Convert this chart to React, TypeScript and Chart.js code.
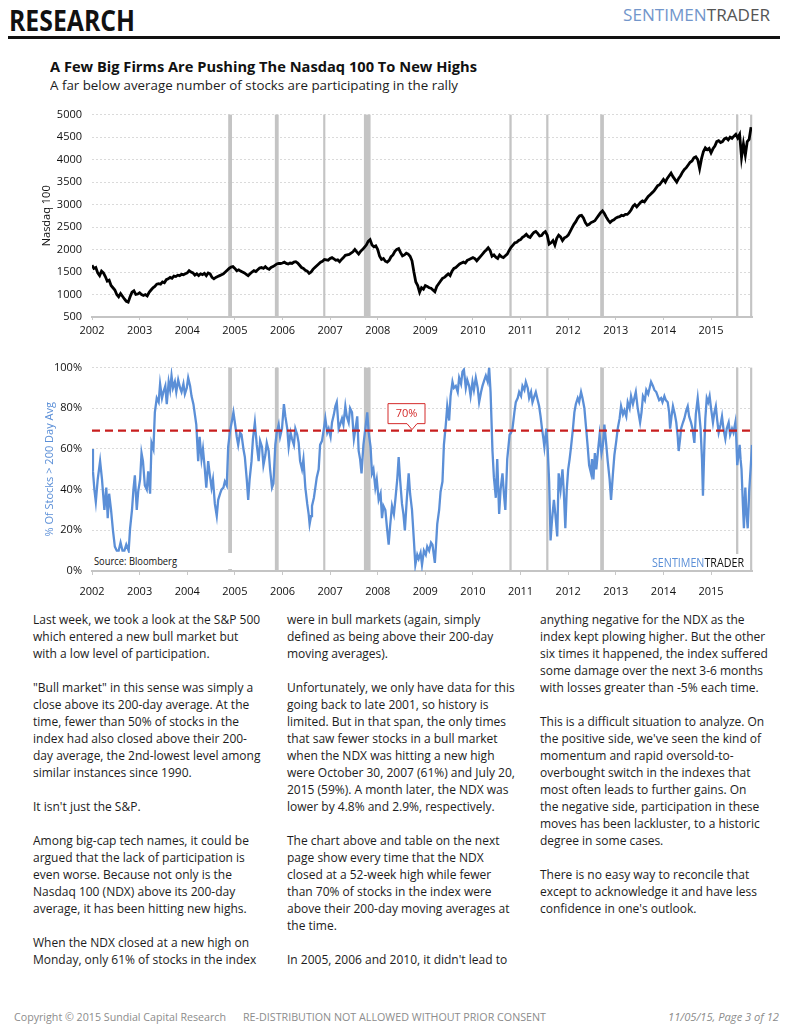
import React, { useEffect, useLayoutEffect, useRef } from "react";
import { Chart, registerables } from "chart.js";

Chart.register(...registerables);

const FONT = '"Open Sans", "DejaVu Sans", sans-serif';

// ---------- DATA ----------
const yearTicks = [2002, 2003, 2004, 2005, 2006, 2007, 2008, 2009, 2010, 2011, 2012, 2013, 2014, 2015];
const xMin = 2002;
const xMax = 2015.86;

// grey highlight periods (decimal years)
const bandStart = [2004.86, 2005.84, 2006.855, 2007.71, 2010.765, 2011.538, 2012.672, 2015.525, 2015.82];
const bandEnd = [2004.94, 2005.92, 2006.9, 2007.85, 2010.813, 2011.585, 2012.75, 2015.573, 2015.865];

// Nasdaq 100, sampled every 0.04 year from 2002.00
const ndxStartYear = 2002;
const ndxStep = 0.04;
const ndxValues = [
  // 2002
  1650, 1580, 1600, 1480, 1420, 1520, 1480, 1400, 1300, 1320, 1200, 1150, 1100, 1000, 950, 1020, 960, 900, 850, 830, 950, 1050, 1080, 1000, 1010,
  // 2003
  1040, 1000, 980, 1000, 970, 1050, 1100, 1150, 1180, 1230, 1240, 1230, 1280, 1260, 1330, 1350, 1380, 1360, 1410, 1400, 1430, 1420, 1450, 1440, 1460,
  // 2004
  1480, 1530, 1500, 1480, 1430, 1460, 1420, 1460, 1440, 1470, 1420, 1480, 1460, 1380, 1350, 1380, 1400, 1420, 1440, 1460, 1500, 1540, 1580, 1610, 1620,
  // 2005
  1580, 1530, 1550, 1520, 1500, 1480, 1450, 1420, 1460, 1500, 1530, 1510, 1550, 1590, 1600, 1580, 1620, 1580, 1560, 1600, 1620, 1650, 1680, 1690, 1690,
  // 2006
  1700, 1720, 1690, 1680, 1700, 1690, 1720, 1730, 1700, 1650, 1600, 1580, 1540, 1520, 1470, 1500, 1560, 1600, 1640, 1680, 1720, 1740, 1780, 1770, 1760,
  // 2007
  1800, 1820, 1790, 1760, 1770, 1730, 1780, 1820, 1870, 1880, 1890, 1920, 1950, 2000, 1950, 1900, 1960, 2000, 2050, 2100, 2180, 2220, 2100, 2060, 2080,
  // 2008
  2000, 1850, 1780, 1800, 1740, 1720, 1760, 1840, 1880, 1960, 2000, 2020, 1930, 1860, 1880, 1920, 1900, 1850, 1750, 1500, 1280, 1200, 1050, 1150, 1120,
  // 2009
  1200, 1180, 1150, 1140, 1100, 1060, 1180, 1240, 1300, 1360, 1380, 1420, 1460, 1420, 1520, 1580, 1600, 1640, 1680, 1700, 1720, 1700, 1760, 1780, 1800,
  // 2010
  1820, 1800, 1750, 1800, 1850, 1900, 1950, 1990, 2040, 1980, 1850, 1880, 1830, 1800, 1880, 1840, 1820, 1860, 1900, 1980, 2050, 2100, 2150, 2160, 2200,
  // 2011
  2220, 2270, 2300, 2340, 2290, 2270, 2330, 2380, 2400, 2360, 2300, 2310, 2370, 2400, 2320, 2120, 2150, 2200, 2100, 2250, 2320, 2280, 2200, 2260, 2280,
  // 2012
  2320, 2400, 2480, 2560, 2620, 2700, 2750, 2760, 2700, 2600, 2540, 2560, 2600, 2620, 2640, 2700, 2760, 2820, 2860, 2800, 2720, 2650, 2600, 2640, 2660,
  // 2013
  2700, 2720, 2730, 2760, 2750, 2780, 2780, 2820, 2880, 2960, 3000, 2950, 3000, 3050, 3080, 3060, 3120, 3180, 3220, 3260, 3300, 3360, 3420, 3440, 3500,
  // 2014
  3560, 3500, 3580, 3640, 3700, 3620, 3560, 3500, 3580, 3640, 3720, 3780, 3820, 3880, 3940, 3970, 4040, 4060, 4000, 3800, 4020, 4180, 4260, 4220, 4250,
  // 2015
  4150, 4240, 4300, 4400, 4420, 4380, 4400, 4460, 4480, 4440, 4500, 4470, 4520, 4560, 4480, 4560, 4050, 4350, 4100, 4400, 4450, 4720,
];
const ndxTicks = [500, 1000, 1500, 2000, 2500, 3000, 3500, 4000, 4500, 5000];

// % of stocks above 200-day average
const pctDates = [
  2002.0, 2002.02, 2002.05, 2002.08, 2002.12, 2002.17, 2002.21, 2002.26, 2002.3, 2002.33, 2002.36, 2002.4, 2002.44, 2002.48, 2002.52, 2002.56, 2002.6, 2002.64, 2002.68, 2002.72, 2002.77, 2002.8, 2002.84, 2002.87, 2002.9, 2002.94, 2002.97,
  2003.01, 2003.04, 2003.07, 2003.11, 2003.15, 2003.18, 2003.22, 2003.25, 2003.29, 2003.32, 2003.36, 2003.4, 2003.43, 2003.47, 2003.5, 2003.54, 2003.57, 2003.61, 2003.64, 2003.67, 2003.7, 2003.74, 2003.77, 2003.81, 2003.85, 2003.88, 2003.92, 2003.95, 2003.99,
  2004.02, 2004.06, 2004.09, 2004.13, 2004.16, 2004.19, 2004.23, 2004.26, 2004.3, 2004.33, 2004.37, 2004.4, 2004.44, 2004.47, 2004.51, 2004.54, 2004.58, 2004.62, 2004.65, 2004.69, 2004.72, 2004.76, 2004.79, 2004.83, 2004.86, 2004.9, 2004.94, 2004.97,
  2005.0, 2005.04, 2005.07, 2005.11, 2005.14, 2005.18, 2005.21, 2005.25, 2005.28, 2005.31, 2005.35, 2005.38, 2005.42, 2005.46, 2005.5, 2005.53, 2005.57, 2005.6, 2005.64, 2005.67, 2005.71, 2005.74, 2005.78, 2005.81, 2005.85, 2005.88, 2005.92, 2005.95, 2005.99,
  2006.03, 2006.06, 2006.1, 2006.13, 2006.17, 2006.2, 2006.24, 2006.27, 2006.31, 2006.34, 2006.37, 2006.41, 2006.44, 2006.48, 2006.52, 2006.55, 2006.57, 2006.6, 2006.62, 2006.66, 2006.69, 2006.72, 2006.76, 2006.79, 2006.83, 2006.87, 2006.9, 2006.94, 2006.97,
  2007.01, 2007.04, 2007.08, 2007.11, 2007.14, 2007.18, 2007.21, 2007.25, 2007.28, 2007.32, 2007.35, 2007.39, 2007.42, 2007.46, 2007.5, 2007.54, 2007.57, 2007.6, 2007.63, 2007.66, 2007.7, 2007.74, 2007.78, 2007.81, 2007.85, 2007.88, 2007.91, 2007.95, 2007.98,
  2008.02, 2008.06, 2008.09, 2008.12, 2008.16, 2008.2, 2008.23, 2008.26, 2008.3, 2008.34, 2008.37, 2008.41, 2008.44, 2008.47, 2008.51, 2008.54, 2008.57, 2008.61, 2008.65, 2008.68, 2008.72, 2008.76, 2008.79, 2008.83, 2008.86, 2008.9, 2008.93, 2008.97,
  2009.01, 2009.04, 2009.08, 2009.12, 2009.15, 2009.2, 2009.23, 2009.25, 2009.29, 2009.32, 2009.36, 2009.39, 2009.43, 2009.46, 2009.5, 2009.53, 2009.57, 2009.6, 2009.64, 2009.68, 2009.71, 2009.75, 2009.78, 2009.81, 2009.85, 2009.88, 2009.92, 2009.95, 2009.99,
  2010.02, 2010.06, 2010.1, 2010.13, 2010.17, 2010.2, 2010.24, 2010.27, 2010.31, 2010.34, 2010.37, 2010.41, 2010.44, 2010.48, 2010.51, 2010.55, 2010.58, 2010.62, 2010.65, 2010.68, 2010.72, 2010.77, 2010.8, 2010.83, 2010.87, 2010.9, 2010.94, 2010.97,
  2011.01, 2011.04, 2011.08, 2011.11, 2011.15, 2011.18, 2011.22, 2011.25, 2011.29, 2011.32, 2011.36, 2011.39, 2011.42, 2011.45, 2011.48, 2011.5, 2011.54, 2011.57, 2011.6, 2011.63, 2011.66, 2011.7, 2011.73, 2011.77, 2011.8, 2011.84, 2011.88, 2011.91, 2011.94, 2011.97,
  2012.0, 2012.03, 2012.06, 2012.1, 2012.13, 2012.16, 2012.2, 2012.23, 2012.27, 2012.3, 2012.34, 2012.37, 2012.41, 2012.44, 2012.48, 2012.5, 2012.53, 2012.56, 2012.59, 2012.63, 2012.66, 2012.7, 2012.73, 2012.76, 2012.8, 2012.83, 2012.87, 2012.9, 2012.94, 2012.97,
  2013.01, 2013.04, 2013.08, 2013.11, 2013.15, 2013.18, 2013.22, 2013.25, 2013.29, 2013.32, 2013.36, 2013.39, 2013.42, 2013.46, 2013.51, 2013.54, 2013.57, 2013.61, 2013.64, 2013.68, 2013.71, 2013.74, 2013.78, 2013.81, 2013.85, 2013.88, 2013.91, 2013.95, 2013.98,
  2014.02, 2014.05, 2014.09, 2014.12, 2014.14, 2014.17, 2014.2, 2014.24, 2014.27, 2014.3, 2014.32, 2014.35, 2014.37, 2014.41, 2014.44, 2014.48, 2014.51, 2014.54, 2014.58, 2014.61, 2014.65, 2014.68, 2014.72, 2014.75, 2014.78, 2014.81, 2014.83, 2014.86, 2014.88, 2014.91, 2014.94, 2014.97,
  2015.0, 2015.04, 2015.07, 2015.1, 2015.13, 2015.16, 2015.2, 2015.23, 2015.26, 2015.3, 2015.33, 2015.37, 2015.4, 2015.44, 2015.47, 2015.51, 2015.53, 2015.55, 2015.58, 2015.6, 2015.62, 2015.64, 2015.67, 2015.69, 2015.71, 2015.72, 2015.74, 2015.77, 2015.79, 2015.8, 2015.83, 2015.86,
];
const pctValues = [
  60, 49, 40, 34, 45, 54, 45, 30, 41, 26, 38, 30, 20, 12, 10, 10, 14, 10, 10, 13, 10, 21, 30, 40, 47, 30, 39,
  45, 58, 54, 42, 40, 49, 38, 63, 60, 78, 85, 83, 92, 85, 88, 91, 82, 93, 89, 96, 90, 93, 88, 94, 90, 88, 92, 87, 90,
  95, 91, 86, 82, 77, 72, 54, 66, 55, 60, 50, 41, 54, 48, 41, 45, 33, 27, 35, 38, 40, 41, 44, 42, 61, 69, 74, 78,
  73, 66, 62, 68, 67, 60, 56, 45, 35, 45, 54, 65, 73, 62, 54, 64, 61, 52, 57, 63, 59, 50, 41, 43, 62, 68, 72, 66, 70,
  82, 76, 70, 61, 68, 65, 62, 70, 67, 63, 54, 50, 55, 41, 33, 28, 23, 27, 32, 36, 41, 46, 50, 62, 64, 70, 75, 68, 70,
  66, 73, 77, 81, 83, 70, 72, 75, 72, 81, 76, 73, 80, 78, 65, 71, 76, 59, 55, 48, 62, 70, 78, 68, 61, 48, 50, 41, 45,
  35, 38, 26, 32, 30, 20, 13, 22, 32, 28, 35, 45, 56, 45, 33, 28, 20, 35, 48, 38, 30, 15, 3, 8, 6, 9, 3, 10,
  8, 12, 10, 14, 13, 4, 15, 23, 30, 39, 44, 62, 72, 81, 74, 86, 93, 90, 91, 88, 95, 92, 98, 99, 90, 94, 91, 86, 93,
  89, 95, 90, 83, 88, 91, 94, 96, 93, 100, 88, 59, 46, 36, 55, 28, 40, 48, 38, 30, 55, 67, 68, 70, 78, 83, 85, 88,
  86, 91, 89, 93, 90, 85, 88, 83, 86, 88, 84, 81, 76, 70, 65, 61, 70, 60, 44, 15, 25, 35, 28, 17, 48, 40, 50, 38, 21, 40,
  50, 55, 61, 70, 78, 82, 85, 83, 88, 85, 80, 72, 61, 52, 48, 55, 45, 58, 50, 60, 67, 58, 62, 72, 62, 54, 45, 35, 48, 57,
  64, 70, 75, 81, 77, 79, 76, 83, 80, 86, 82, 85, 88, 80, 73, 78, 86, 84, 89, 87, 90, 93, 91, 89, 88, 86, 84, 85, 83,
  86, 84, 83, 78, 70, 76, 81, 77, 73, 66, 59, 65, 70, 73, 75, 79, 81, 76, 73, 70, 63, 77, 85, 78, 70, 55, 37, 62, 75, 85, 83, 86,
  80, 73, 78, 81, 74, 68, 72, 76, 70, 65, 70, 73, 67, 70, 68, 73, 65, 52, 58, 62, 55, 50, 32, 21, 35, 41, 30, 21, 32, 39, 50, 62,
];
const pctTicks = [0, 20, 40, 60, 80, 100];
const threshold = 69;
const thresholdLabel = "70%";
const thresholdLabelAt = 2008.72;

// ---------- TEXT ----------
const col1 = [
  "Last week, we took a look at the S&P 500",
  "which entered a new bull market but",
  "with a low level of participation.",
  "",
  "\"Bull market\" in this sense was simply a",
  "close above its 200-day average. At the",
  "time, fewer than 50% of stocks in the",
  "index had also closed above their 200-",
  "day average, the 2nd-lowest level among",
  "similar instances since 1990.",
  "",
  "It isn't just the S&P.",
  "",
  "Among big-cap tech names, it could be",
  "argued that the lack of participation is",
  "even worse. Because not only is the",
  "Nasdaq 100 (NDX) above its 200-day",
  "average, it has been hitting new highs.",
  "",
  "When the NDX closed at a new high on",
  "Monday, only 61% of stocks in the index",
];
const col2 = [
  "were in bull markets (again, simply",
  "defined as being above their 200-day",
  "moving averages).",
  "",
  "Unfortunately, we only have data for this",
  "going back to late 2001, so history is",
  "limited. But in that span, the only times",
  "that saw fewer stocks in a bull market",
  "when the NDX was hitting a new high",
  "were October 30, 2007 (61%) and July 20,",
  "2015 (59%). A month later, the NDX was",
  "lower by 4.8% and 2.9%, respectively.",
  "",
  "The chart above and table on the next",
  "page show every time that the NDX",
  "closed at a 52-week high while fewer",
  "than 70% of stocks in the index were",
  "above their 200-day moving averages at",
  "the time.",
  "",
  "In 2005, 2006 and 2010, it didn't lead to",
];
const col3 = [
  "anything negative for the NDX as the",
  "index kept plowing higher. But the other",
  "six times it happened, the index suffered",
  "some damage over the next 3-6 months",
  "with losses greater than -5% each time.",
  "",
  "This is a difficult situation to analyze. On",
  "the positive side, we've seen the kind of",
  "momentum and rapid oversold-to-",
  "overbought switch in the indexes that",
  "most often leads to further gains. On",
  "the negative side, participation in these",
  "moves has been lackluster, to a historic",
  "degree in some cases.",
  "",
  "There is no easy way to reconcile that",
  "except to acknowledge it and have less",
  "confidence in one's outlook.",
];

// ---------- HELPERS ----------
function Fit({ w, style, children }: { w: number; style: React.CSSProperties; children: React.ReactNode }) {
  const ref = useRef<HTMLDivElement>(null);
  useLayoutEffect(() => {
    const el = ref.current;
    if (!el) return;
    const apply = () => {
      el.style.transform = "none";
      const nat = el.getBoundingClientRect().width;
      if (nat > 0) el.style.transform = `scaleX(${w / nat})`;
    };
    apply();
    const f: any = (document as any).fonts;
    if (f && f.ready) f.ready.then(apply);
  }, [w]);
  return (
    <div ref={ref} style={{ position: "absolute", whiteSpace: "nowrap", transformOrigin: "0 0", ...style }}>
      {children}
    </div>
  );
}

const bandsPlugin = {
  id: "bands",
  beforeDatasetsDraw(chart: any) {
    const { ctx, chartArea, scales } = chart;
    const x = scales.x;
    ctx.save();
    ctx.fillStyle = "#c4c4c4";
    bandStart.forEach((s, i) => {
      const x1 = Math.max(chartArea.left, x.getPixelForValue(s));
      const x2 = Math.min(chartArea.right + 1, x.getPixelForValue(bandEnd[i]));
      ctx.fillRect(x1, chartArea.top, Math.max(x2 - x1, 1.5), chartArea.bottom - chartArea.top);
    });
    ctx.restore();
  },
};

const calloutPlugin = {
  id: "callout",
  afterDatasetsDraw(chart: any) {
    const { ctx, scales } = chart;
    const ax = scales.x.getPixelForValue(thresholdLabelAt);
    const ay = scales.y.getPixelForValue(threshold);
    const bw = 37, bh = 20, tip = 6;
    const bx = ax - 24;
    const bb = ay - tip - 1;
    const bt = bb - bh;
    ctx.save();
    ctx.beginPath();
    ctx.moveTo(bx, bt);
    ctx.lineTo(bx + bw, bt);
    ctx.lineTo(bx + bw, bb);
    ctx.lineTo(ax + 5, bb);
    ctx.lineTo(ax, bb + tip);
    ctx.lineTo(ax - 5, bb);
    ctx.lineTo(bx, bb);
    ctx.closePath();
    ctx.fillStyle = "#ffffff";
    ctx.fill();
    ctx.strokeStyle = "#d42a2a";
    ctx.lineWidth = 1;
    ctx.stroke();
    ctx.fillStyle = "#d42a2a";
    ctx.font = `11px ${FONT}`;
    ctx.textAlign = "center";
    ctx.textBaseline = "middle";
    ctx.fillText(thresholdLabel, bx + bw / 2, bt + bh / 2 + 0.5);
    ctx.restore();
  },
};

function xScale(tickLen: number, pad: number) {
  return {
    type: "linear",
    min: xMin,
    max: xMax,
    afterBuildTicks: (s: any) => {
      s.ticks = yearTicks.map((v) => ({ value: v }));
    },
    ticks: {
      color: "#111",
      font: { family: FONT, size: 11 },
      padding: pad,
      maxRotation: 0,
      autoSkip: false,
      callback: (v: any) => String(v),
    },
    grid: { drawOnChartArea: false, drawTicks: true, tickLength: tickLen, color: "#c8c8c8", lineWidth: 1 },
    border: { display: true, color: "#c4c4c4", width: 2 },
    afterFit: (s: any) => {
      s.height = 27;
    },
  };
}

function ChartCanvas({ make, style, w, h }: { make: () => any; style: React.CSSProperties; w: number; h: number }) {
  const ref = useRef<HTMLCanvasElement>(null);
  useEffect(() => {
    if (!ref.current) return;
    const chart = new Chart(ref.current, make());
    return () => chart.destroy();
  }, []);
  return <canvas ref={ref} width={w} height={h} style={{ position: "absolute", width: w, height: h, ...style }} />;
}

function makeTop() {
  return {
    type: "line",
    data: {
      datasets: [
        {
          data: ndxValues.map((v, i) => ({ x: ndxStartYear + i * ndxStep, y: v })),
          borderColor: "#000000",
          borderWidth: 2.8,
          pointRadius: 0,
          tension: 0,
        },
      ],
    },
    options: {
      animation: false,
      responsive: false,
      devicePixelRatio: 1,
      layout: { padding: { top: 10, right: 8, left: 0, bottom: 0 } },
      plugins: { legend: { display: false }, tooltip: { enabled: false } },
      scales: {
        x: xScale(3, 4),
        y: {
          min: 500,
          max: 5000,
          afterBuildTicks: (s: any) => {
            s.ticks = ndxTicks.map((v) => ({ value: v }));
          },
          ticks: { color: "#111", font: { family: FONT, size: 11 }, padding: 10, callback: (v: any) => String(v) },
          grid: { color: "#dadada", lineWidth: 1, drawTicks: false },
          border: { display: false, dash: [2, 2] },
          title: {
            display: true,
            text: "Nasdaq 100",
            color: "#111",
            font: { family: FONT, size: 11 },
            padding: { top: 10, bottom: 0 },
          },
          afterFit: (s: any) => {
            s.width = 62;
          },
        },
      },
    },
    plugins: [bandsPlugin],
  };
}

function makeBottom() {
  return {
    type: "line",
    data: {
      datasets: [
        {
          data: [
            { x: xMin, y: threshold },
            { x: xMax, y: threshold },
          ],
          borderColor: "#c81e1e",
          borderWidth: 2.3,
          borderDash: [8, 5],
          pointRadius: 0,
        },
        {
          data: pctValues.map((v, i) => ({ x: pctDates[i], y: v })),
          borderColor: "#5b8fd7",
          borderWidth: 2.3,
          pointRadius: 0,
          tension: 0,
        },
      ],
    },
    options: {
      animation: false,
      responsive: false,
      devicePixelRatio: 1,
      layout: { padding: { top: 10, right: 8, left: 0, bottom: 0 } },
      plugins: { legend: { display: false }, tooltip: { enabled: false } },
      scales: {
        x: xScale(4, 10),
        y: {
          min: 0,
          max: 100,
          afterBuildTicks: (s: any) => {
            s.ticks = pctTicks.map((v) => ({ value: v }));
          },
          ticks: { color: "#111", font: { family: FONT, size: 11 }, padding: 10, callback: (v: any) => v + "%" },
          grid: { color: "#dadada", lineWidth: 1, drawTicks: false },
          border: { display: false, dash: [2, 2] },
          title: {
            display: true,
            text: "% Of Stocks > 200 Day Avg",
            color: "#5b8fd7",
            font: { family: FONT, size: 11 },
            padding: { top: 13, bottom: 0 },
          },
          afterFit: (s: any) => {
            s.width = 62;
          },
        },
      },
    },
    plugins: [bandsPlugin, calloutPlugin],
  };
}

function Column({ lines, left }: { lines: string[]; left: number }) {
  return (
    <div style={{ position: "absolute", left, top: 611, fontSize: 12, lineHeight: "17px", color: "#1c1c1c" }}>
      {lines.map((l, i) => (
        <div key={i} style={{ whiteSpace: "nowrap", height: 17 }}>
          {l}
        </div>
      ))}
    </div>
  );
}

export default function App() {
  useEffect(() => {
    document.body.style.margin = "0";
  }, []);
  return (
    <div
      style={{
        position: "absolute",
        left: 0,
        top: 0,
        width: 788,
        height: 1028,
        background: "#fff",
        fontFamily: FONT,
        overflow: "hidden",
      }}
    >
      <Fit w={126} style={{ left: 9, top: 6, fontSize: 28, fontWeight: 700, lineHeight: "28px", color: "#111" }}>
        RESEARCH
      </Fit>
      <div style={{ position: "absolute", left: 8, top: 36, width: 772, height: 3, background: "#111" }} />
      <Fit w={147} style={{ left: 623, top: 6, fontSize: 17, lineHeight: "17px" }}>
        <span style={{ color: "#7296cb" }}>SENTIMEN</span>
        <span style={{ color: "#555" }}>TRADER</span>
      </Fit>
      <Fit w={427} style={{ left: 50, top: 59, fontSize: 15, fontWeight: 700, lineHeight: "15px", color: "#111" }}>
        A Few Big Firms Are Pushing The Nasdaq 100 To New Highs
      </Fit>
      <Fit w={408} style={{ left: 50, top: 79, fontSize: 13, lineHeight: "13px", color: "#1c1c1c" }}>
        A far below average number of stocks are participating in the rally
      </Fit>

      <ChartCanvas make={makeTop} w={730} h={246} style={{ left: 30, top: 98 }} />
      <ChartCanvas make={makeBottom} w={730} h={247} style={{ left: 30, top: 351 }} />

      <div style={{ position: "absolute", left: 92, top: 553, width: 146, height: 16, background: "#fff" }} />
      <Fit w={83} style={{ left: 94, top: 555, fontSize: 11, lineHeight: "11px", color: "#111" }}>
        Source: Bloomberg
      </Fit>
      <div style={{ position: "absolute", left: 649, top: 554, width: 98, height: 16, background: "#fff" }} />
      <Fit w={92} style={{ left: 652, top: 556.5, fontSize: 12, lineHeight: "12px" }}>
        <span style={{ color: "#5b8fd7" }}>SENTIMEN</span>
        <span style={{ color: "#111" }}>TRADER</span>
      </Fit>

      <Column lines={col1} left={33} />
      <Column lines={col2} left={287} />
      <Column lines={col3} left={540} />

      <Fit w={212} style={{ left: 14, top: 1011, fontSize: 11, lineHeight: "11px", color: "#8c8c8c" }}>
        Copyright © 2015 Sundial Capital Research
      </Fit>
      <Fit w={303} style={{ left: 243, top: 1011, fontSize: 11, lineHeight: "11px", color: "#8c8c8c" }}>
        RE-DISTRIBUTION NOT ALLOWED WITHOUT PRIOR CONSENT
      </Fit>
      <Fit w={111} style={{ left: 668, top: 1011, fontSize: 11, lineHeight: "11px", color: "#8c8c8c", fontStyle: "italic" }}>
        11/05/15, Page 3 of 12
      </Fit>
    </div>
  );
}
